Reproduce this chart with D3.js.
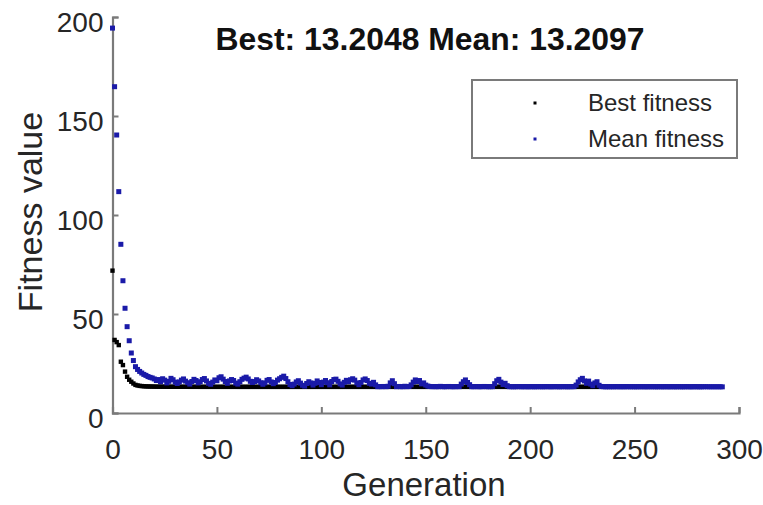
<!DOCTYPE html>
<html>
<head>
<meta charset="utf-8">
<script src="https://cdn.jsdelivr.net/npm/d3@7"></script>
<style>
  html, body { margin: 0; padding: 0; background: #fff; }
  svg { display: block; font-family: "Liberation Sans", Arial, sans-serif; }
</style>
</head>
<body>
<svg id="chart" width="763" height="505"></svg>
<script>
// GA run: best and mean fitness per generation (generation = array index)
const bestFitness = [
  71.9, 36.9, 35.8, 34.3, 25.9, 24.2, 20.9, 18.3, 16.8, 15.8,
  14.9, 14.2, 13.9, 13.7, 13.6, 13.5, 13.45, 13.4, 13.38, 13.35,
  13.33, 13.3, 13.3, 13.29, 13.28, 13.28, 13.27, 13.26, 13.26, 13.25,
  13.25, 13.24, 13.24, 13.24, 13.23, 13.23, 13.23, 13.22, 13.22, 13.22,
  13.22, 13.22, 13.21, 13.21, 13.21, 13.21, 13.21, 13.21, 13.21, 13.21,
  13.21, 13.21, 13.21, 13.21, 13.21, 13.21, 13.21, 13.21, 13.21, 13.21,
  13.2048, 13.2048, 13.2048, 13.2048, 13.2048, 13.2048, 13.2048, 13.2048, 13.2048, 13.2048,
  13.2048, 13.2048, 13.2048, 13.2048, 13.2048, 13.2048, 13.2048, 13.2048, 13.2048, 13.2048,
  13.2048, 13.2048, 13.2048, 13.2048, 13.2048, 13.2048, 13.2048, 13.2048, 13.2048, 13.2048,
  13.2048, 13.2048, 13.2048, 13.2048, 13.2048, 13.2048, 13.2048, 13.2048, 13.2048, 13.2048,
  13.2048, 13.2048, 13.2048, 13.2048, 13.2048, 13.2048, 13.2048, 13.2048, 13.2048, 13.2048,
  13.2048, 13.2048, 13.2048, 13.2048, 13.2048, 13.2048, 13.2048, 13.2048, 13.2048, 13.2048,
  13.2048, 13.2048, 13.2048, 13.2048, 13.2048, 13.2048, 13.2048, 13.2048, 13.2048, 13.2048,
  13.2048, 13.2048, 13.2048, 13.2048, 13.2048, 13.2048, 13.2048, 13.2048, 13.2048, 13.2048,
  13.2048, 13.2048, 13.2048, 13.2048, 13.2048, 13.2048, 13.2048, 13.2048, 13.2048, 13.2048,
  13.2048, 13.2048, 13.2048, 13.2048, 13.2048, 13.2048, 13.2048, 13.2048, 13.2048, 13.2048,
  13.2048, 13.2048, 13.2048, 13.2048, 13.2048, 13.2048, 13.2048, 13.2048, 13.2048, 13.2048,
  13.2048, 13.2048, 13.2048, 13.2048, 13.2048, 13.2048, 13.2048, 13.2048, 13.2048, 13.2048,
  13.2048, 13.2048, 13.2048, 13.2048, 13.2048, 13.2048, 13.2048, 13.2048, 13.2048, 13.2048,
  13.2048, 13.2048, 13.2048, 13.2048, 13.2048, 13.2048, 13.2048, 13.2048, 13.2048, 13.2048,
  13.2048, 13.2048, 13.2048, 13.2048, 13.2048, 13.2048, 13.2048, 13.2048, 13.2048, 13.2048,
  13.2048, 13.2048, 13.2048, 13.2048, 13.2048, 13.2048, 13.2048, 13.2048, 13.2048, 13.2048,
  13.2048, 13.2048, 13.2048, 13.2048, 13.2048, 13.2048, 13.2048, 13.2048, 13.2048, 13.2048,
  13.2048, 13.2048, 13.2048, 13.2048, 13.2048, 13.2048, 13.2048, 13.2048, 13.2048, 13.2048,
  13.2048, 13.2048, 13.2048, 13.2048, 13.2048, 13.2048, 13.2048, 13.2048, 13.2048, 13.2048,
  13.2048, 13.2048, 13.2048, 13.2048, 13.2048, 13.2048, 13.2048, 13.2048, 13.2048, 13.2048,
  13.2048, 13.2048, 13.2048, 13.2048, 13.2048, 13.2048, 13.2048, 13.2048, 13.2048, 13.2048,
  13.2048, 13.2048, 13.2048, 13.2048, 13.2048, 13.2048, 13.2048, 13.2048, 13.2048, 13.2048,
  13.2048, 13.2048, 13.2048
];

const meanFitness = [
  194.4, 164.8, 140.4, 111.8, 85.2, 66.8, 52.9, 43.6, 36.5, 30.3,
  26.5, 23.4, 22.0, 21.0, 20.2, 19.5, 19.0, 18.4, 18.0, 17.7,
  17.2, 16.4, 16.9, 15.8, 17.3, 16.6, 15.2, 16.0, 17.5, 16.8,
  15.6, 14.9, 15.7, 16.6, 17.2, 16.1, 15.3, 14.6, 15.9, 17.0,
  16.4, 15.2, 15.8, 16.9, 17.4, 16.2, 15.0, 14.5, 15.6, 16.7,
  16.3, 17.8, 18.3, 17.1, 15.9, 15.0, 16.2, 16.9, 16.4, 15.1,
  14.6, 15.8, 17.0, 17.6, 18.1, 17.2, 16.0, 15.4, 15.9, 16.8,
  16.2, 15.3, 14.5, 15.2, 16.5, 16.9, 15.7, 14.8, 15.4, 16.6,
  17.3, 18.0, 18.6, 17.4, 15.8, 14.4, 13.8, 14.6, 15.7, 16.3,
  15.1, 14.0, 13.6, 14.9, 15.8, 15.2, 14.1, 15.0, 16.2, 15.4,
  14.3, 15.6, 16.4, 15.3, 14.2, 15.9, 16.9, 17.1, 16.0, 14.7,
  14.1, 15.5, 16.5, 15.8, 16.8, 17.3, 16.6, 15.2, 14.3, 15.4,
  16.7, 17.2, 16.4, 15.0, 14.6, 15.5, 14.2, 13.3, 13.35, 13.3,
  13.4, 13.3, 13.5, 15.2, 16.3, 14.8, 13.3, 13.4, 13.3, 13.3,
  13.5, 13.3, 13.4, 14.2, 15.6, 16.7, 15.9, 16.4, 14.7, 15.2,
  14.1, 13.6, 13.4, 13.3, 13.35, 13.3, 13.3, 13.45, 13.3, 13.3,
  13.3, 13.4, 13.3, 13.3, 13.3, 13.35, 13.3, 14.6, 15.8, 16.7,
  15.4, 14.3, 13.3, 13.3, 13.35, 13.3, 13.3, 13.3, 13.4, 13.3,
  13.3, 13.3, 13.3, 14.8, 16.3, 17.0, 15.6, 14.4, 15.0, 13.8,
  13.3, 13.3, 13.25, 13.3, 13.3, 13.35, 13.25, 13.3, 13.3, 13.25,
  13.3, 13.3, 13.25, 13.3, 13.3, 13.3, 13.25, 13.3, 13.3, 13.3,
  13.25, 13.3, 13.3, 13.3, 13.25, 13.3, 13.3, 13.3, 13.25, 13.3,
  13.3, 13.3, 14.1, 15.7, 16.8, 17.5, 16.2, 15.0, 16.1, 14.6,
  13.8, 15.2, 15.8, 14.0, 13.4, 13.3, 13.25, 13.3, 13.25, 13.3,
  13.25, 13.3, 13.3, 13.25, 13.3, 13.25, 13.3, 13.3, 13.25, 13.3,
  13.25, 13.25, 13.3, 13.25, 13.3, 13.25, 13.25, 13.3, 13.25, 13.3,
  13.25, 13.25, 13.3, 13.25, 13.25, 13.3, 13.25, 13.25, 13.3, 13.25,
  13.25, 13.3, 13.25, 13.25, 13.25, 13.3, 13.25, 13.25, 13.25, 13.3,
  13.25, 13.25, 13.25, 13.25, 13.3, 13.25, 13.25, 13.25, 13.25, 13.25,
  13.25, 13.25, 13.2097
];

const xTicks = [0, 50, 100, 150, 200, 250, 300];
const yTicks = [0, 50, 100, 150, 200];
const legendLabels = ["Best fitness", "Mean fitness"];
const seriesColors = ["#000000", "#1a1aa8"];
const markerSizes = [4.4, 5];
const titleText = "Best: 13.2048 Mean: 13.2097";

const svg = d3.select("#chart");
const axisGray = "#7a7a7a";
const labelColor = "#262626";

const x = d3.scaleLinear().domain([0, 300]).range([112.5, 739]);
const y = d3.scaleLinear().domain([0, 200]).range([413, 17]);

// Axes: inward-pointing ticks, no opposite box edges
const xAxis = svg.append("g")
  .attr("transform", `translate(0,${y(0)})`)
  .call(d3.axisBottom(x).tickValues(xTicks).tickSize(-6).tickPadding(26).tickFormat(d3.format("d")));
const yAxis = svg.append("g")
  .attr("transform", `translate(${x(0)},0)`)
  .call(d3.axisLeft(y).tickValues(yTicks).tickSize(-6).tickPadding(9).tickFormat(d3.format("d")));

[xAxis, yAxis].forEach(g => {
  g.select(".domain").attr("stroke", axisGray).attr("stroke-width", 2.2);
  g.selectAll(".tick line").attr("stroke", axisGray).attr("stroke-width", 2);
  g.selectAll(".tick text").attr("fill", labelColor).attr("font-size", 28);
});
xAxis.selectAll(".tick text").attr("dy", "0.71em");
yAxis.selectAll(".tick text").attr("dy", "0.5em");

// Markers
function plotSeries(values, color, ms) {
  svg.append("g").selectAll("rect")
    .data(values)
    .join("rect")
    .attr("x", (d, i) => x(i) - ms / 2)
    .attr("y", d => y(d) - ms / 2)
    .attr("width", ms)
    .attr("height", ms)
    .attr("fill", color);
}
plotSeries(bestFitness, seriesColors[0], markerSizes[0]);
plotSeries(meanFitness, seriesColors[1], markerSizes[1]);

// Title
svg.append("text")
  .attr("x", 430).attr("y", 50)
  .attr("text-anchor", "middle")
  .attr("font-size", 31).attr("font-weight", "bold")
  .attr("fill", "#111")
  .attr("textLength", 429).attr("lengthAdjust", "spacingAndGlyphs")
  .text(titleText);

// Axis labels
svg.append("text")
  .attr("x", 424).attr("y", 496)
  .attr("text-anchor", "middle")
  .attr("font-size", 33).attr("fill", labelColor)
  .text("Generation");
svg.append("text")
  .attr("transform", "translate(42,212) rotate(-90)")
  .attr("text-anchor", "middle")
  .attr("font-size", 34).attr("fill", labelColor)
  .text("Fitness value");

// Legend
const legend = svg.append("g");
legend.append("rect")
  .attr("x", 472).attr("y", 80).attr("width", 265).attr("height", 78)
  .attr("fill", "#fff").attr("stroke", axisGray).attr("stroke-width", 2);
legendLabels.forEach((lab, i) => {
  const cy = 103 + i * 36;
  legend.append("rect")
    .attr("x", 533.5).attr("y", cy - 1.5).attr("width", 3).attr("height", 3)
    .attr("fill", seriesColors[i]);
  legend.append("text")
    .attr("x", 588).attr("y", cy + 8)
    .attr("font-size", 24).attr("fill", labelColor)
    .text(lab);
});
</script>
</body>
</html>
